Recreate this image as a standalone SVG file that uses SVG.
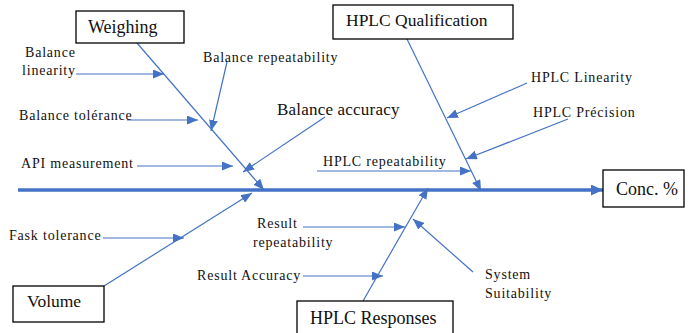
<svg xmlns="http://www.w3.org/2000/svg" width="689" height="333" viewBox="0 0 689 333">
<style>
.box{fill:#fff;stroke:#000;stroke-width:1.3}
text{font-family:"Liberation Serif","Times New Roman",serif;fill:#111}
.lbl{font-size:14px;letter-spacing:0.8px}
.ln{stroke:#4472C4;stroke-width:1.2;fill:none;marker-end:url(#ah)}
.spine{stroke:#4472C4;stroke-width:3.5;fill:none;marker-end:url(#sh)}
</style>
<defs>
<marker id="ah" markerUnits="userSpaceOnUse" markerWidth="11" markerHeight="9" refX="11" refY="4.5" orient="auto">
<path d="M0,0 L11,4.5 L0,9 z" fill="#4472C4"/>
</marker>
<marker id="sh" markerUnits="userSpaceOnUse" markerWidth="12" markerHeight="11" refX="12" refY="5.5" orient="auto">
<path d="M0,0 L12,5.5 L0,11 z" fill="#4472C4"/>
</marker>
</defs>
<rect width="689" height="333" fill="#fff"/>
<g id="connectors">
<line class="spine" x1="18" y1="190" x2="603" y2="190"/>
<line class="ln" x1="137" y1="43" x2="264" y2="190"/>
<line class="ln" x1="76" y1="74" x2="164" y2="74"/>
<line class="ln" x1="227" y1="62" x2="211" y2="131"/>
<line class="ln" x1="127" y1="120" x2="198" y2="120"/>
<line class="ln" x1="137" y1="166" x2="233" y2="166"/>
<line class="ln" x1="325" y1="117" x2="243" y2="172"/>
<line class="ln" x1="407" y1="39" x2="481" y2="191"/>
<line class="ln" x1="527" y1="83" x2="447" y2="118"/>
<line class="ln" x1="568" y1="119" x2="466" y2="159"/>
<line class="ln" x1="317" y1="171" x2="471" y2="171"/>
<line class="ln" x1="104" y1="286" x2="252" y2="193"/>
<line class="ln" x1="103" y1="238" x2="184" y2="238"/>
<line class="ln" x1="363" y1="301" x2="428" y2="188"/>
<line class="ln" x1="303" y1="227" x2="405" y2="227"/>
<line class="ln" x1="303" y1="276" x2="383" y2="276"/>
<line class="ln" x1="473" y1="272" x2="413" y2="219"/>
</g>
<g id="weighing">
<rect class="box" x="76" y="11" width="108" height="32"/>
<text x="88" y="33" font-size="18" font-family="Liberation Serif, serif">Weighing</text>
</g>
<g id="hplc-qualification">
<rect class="box" x="333" y="5" width="180" height="34"/>
<text x="346" y="26" font-size="17.5" font-family="Liberation Serif, serif">HPLC Qualification</text>
</g>
<g id="volume">
<rect class="box" x="13" y="286" width="91" height="36"/>
<text x="27" y="307" font-size="17.5" font-family="Liberation Serif, serif">Volume</text>
</g>
<g id="hplc-responses">
<rect class="box" x="297" y="301" width="156" height="40"/>
<text x="310" y="324" font-size="18" font-family="Liberation Serif, serif">HPLC Responses</text>
</g>
<g id="conc">
<rect class="box" x="603" y="170" width="81" height="37"/>
<text x="616" y="195" font-size="18" font-family="Liberation Serif, serif">Conc. %</text>
</g>
<g id="balance-linearity"><text class="lbl" x="25" y="57">Balance</text><text class="lbl" x="22" y="75">linearity</text></g>
<g id="balance-repeatability"><text class="lbl" x="203" y="62">Balance repeatability</text></g>
<g id="balance-tolerance"><text class="lbl" x="19" y="120">Balance tolérance</text></g>
<g id="api-measurement"><text class="lbl" x="21" y="168">API measurement</text></g>
<g id="balance-accuracy"><text x="277" y="115" font-size="17" letter-spacing="0.2">Balance accuracy</text></g>
<g id="hplc-linearity"><text class="lbl" x="531" y="82">HPLC Linearity</text></g>
<g id="hplc-precision"><text class="lbl" x="533" y="117">HPLC Précision</text></g>
<g id="hplc-repeatability"><text class="lbl" x="323" y="166">HPLC repeatability</text></g>
<g id="fask-tolerance"><text class="lbl" x="9" y="240">Fask tolerance</text></g>
<g id="result-repeatability"><text class="lbl" x="257" y="228">Result</text><text class="lbl" x="253" y="247">repeatability</text></g>
<g id="result-accuracy"><text class="lbl" x="197" y="280">Result Accuracy</text></g>
<g id="system-suitability"><text class="lbl" x="485" y="279">System</text><text class="lbl" x="485" y="298">Suitability</text></g>
</svg>
